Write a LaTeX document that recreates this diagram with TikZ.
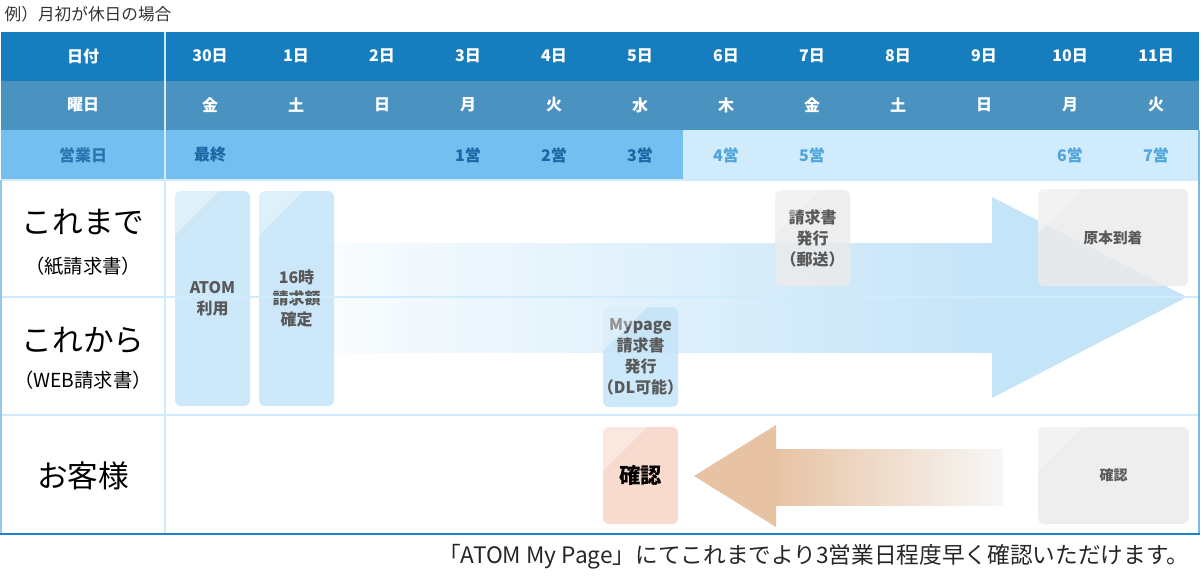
\documentclass[tikz,border=0pt]{standalone}
\usepackage{fontspec}
\setmainfont{Noto Sans CJK JP}
\definecolor{hdrA}{HTML}{167DBF}
\definecolor{hdrB}{HTML}{4A92C0}
\definecolor{hdrC}{HTML}{73C0F0}
\definecolor{hdrD}{HTML}{D0ECFC}
\definecolor{bizleft}{HTML}{2A74B0}
\definecolor{bizdark}{HTML}{1B66A3}
\definecolor{bizlight}{HTML}{4FA4DC}
\definecolor{gridblue}{HTML}{D0EBFB}
\definecolor{boxblue}{HTML}{C4E4F8}
\definecolor{boxgray}{HTML}{EBEBEB}
\definecolor{boxpink}{HTML}{F8D4C5}
\definecolor{boxtext}{HTML}{595959}
\definecolor{arrowblue}{HTML}{C4E4F8}
\definecolor{arrowtan}{HTML}{E7C3A4}
\definecolor{edgeleft}{HTML}{94C9EC}
\definecolor{edgeright}{HTML}{7ABBE6}
\definecolor{edgebottom}{HTML}{1C84C9}
\begin{document}
\begin{tikzpicture}[
  x=0.75pt, y=-0.75pt,
  cell/.style={font=\bfseries\fontsize{12}{14}\selectfont},
  box/.style={rounded corners=4.5pt, inner sep=0pt, inner xsep=-8pt, align=center,
    fill opacity=0.85, text opacity=1, text=boxtext,
    font=\bfseries\fontsize{12}{15.75}\selectfont},
  bluebox/.style={box, fill=boxblue},
  graybox/.style={box, fill=boxgray},
  pinkbox/.style={box, fill=boxpink, text=black,
    font=\bfseries\fontsize{16}{18}\selectfont},
  rowlabel/.style={font=\fontsize{23}{26}\selectfont},
  sublabel/.style={font=\fontsize{14.5}{17}\selectfont},
  gridline/.style={draw=gridblue, line width=1.5pt}]
\useasboundingbox (0,0) rectangle (1201,575);
\node[anchor=west, text=black!80, font=\fontsize{12.5}{14}\selectfont] (title) at (0,14) {例）月初が休日の場合};
%% header
\fill[hdrA] (1,32) rectangle (1199,81);
\fill[hdrB] (1,81) rectangle (1199,130);
\fill[hdrC] (1,130) rectangle (683,180);
\fill[hdrD] (683,130) rectangle (1199,180);
\node[cell, text=white] (date) at (83,56) {日付};
\node[cell, text=white] (wday) at (83,105) {曜日};
\node[cell, text=bizleft] (biz) at (83,155) {営業日};
\foreach \d/\w [count=\i from 0] in {30日/金,1日/土,2日/日,3日/月,4日/火,5日/水,6日/木,7日/金,8日/土,9日/日,10日/月,11日/火} {
  \node[cell, text=white] (d\i) at (210+86*\i,56) {\d};
  \node[cell, text=white] (w\i) at (210+86*\i,105) {\w};
}
\foreach \i/\b/\c in {0/最終/bizdark,3/1営/bizdark,4/2営/bizdark,5/3営/bizdark,
  6/4営/bizlight,7/5営/bizlight,10/6営/bizlight,11/7営/bizlight}
  \node[cell, text=\c] (b\i) at (210+86*\i,155) {\b};
%% row labels
\node[rowlabel] (paper) at (83,222) {これまで};
\node[sublabel] (paperSub) at (83,266) {（紙請求書）};
\node[rowlabel] (web) at (83,340) {これから};
\node[sublabel] (webSub) at (83,380) {（WEB請求書）};
\node[rowlabel] (client) at (83,476) {お客様};
%% arrows
\shade[left color=white, right color=arrowblue] (250,243) rectangle (993,352);
\fill[arrowblue] (992,197) -- (1187,297) -- (992,398) -- cycle;
\fill[arrowtan] (776,425) -- (694,476) -- (776,527) -- cycle;
\shade[left color=arrowtan, right color=black!3] (775,449) rectangle (1003,505);
%% boxes
\node[bluebox, minimum width=56.25pt, minimum height=161.25pt] (atom) at (212.5,298.5) {ATOM\\利用};
\node[bluebox, minimum width=56.25pt, minimum height=161.25pt] (fix) at (296.5,298.5) {16時\\請求額\\確定};
\node[graybox, minimum width=56.25pt, minimum height=72pt] (post) at (812.5,238) {請求書\\発行\\（郵送）};
\node[graybox, minimum width=112.5pt, minimum height=72.75pt, font=\bfseries\fontsize{11}{13}\selectfont] (orig) at (1113,237.5) {原本到着};
\node[bluebox, minimum width=56.25pt, minimum height=75pt] (mypage) at (640.5,357) {Mypage\\請求書\\発行\\（DL可能）};
\node[pinkbox, minimum width=56.25pt, minimum height=72.75pt] (check) at (640.5,475.5) {確認};
\node[graybox, minimum width=113pt, minimum height=72.75pt, font=\bfseries\fontsize{10.5}{12}\selectfont] (check2) at (1113.5,475.5) {確認};
\foreach \n in {atom,fix,post,orig,mypage,check,check2} {
  \begin{scope}
    \clip[rounded corners=4.5pt] (\n.north west) rectangle (\n.south east);
    \fill[white, opacity=0.35] (\n.north west) -- ++(45,0) -- ++(-45,45) -- cycle;
  \end{scope}
}
%% grid and frame
\draw[gridline] (1,180) -- (1199,180);
\draw[gridline] (1,297) -- (1199,297);
\draw[gridline] (1,415) -- (1199,415);
\draw[gridline] (165,32) -- (165,534);
\draw[edgeleft, line width=1.5pt] (1,180) -- (1,534);
\draw[edgeright, line width=1.5pt] (1199,130) -- (1199,534);
\draw[edgebottom, line width=1.5pt] (0,534) -- (1200,534);
\node[anchor=east, text=black!85, font=\fontsize{17}{20}\selectfont] (note) at (1194,557) {「ATOM My Page」にてこれまでより3営業日程度早く確認いただけます。};
\end{tikzpicture}
\end{document}
